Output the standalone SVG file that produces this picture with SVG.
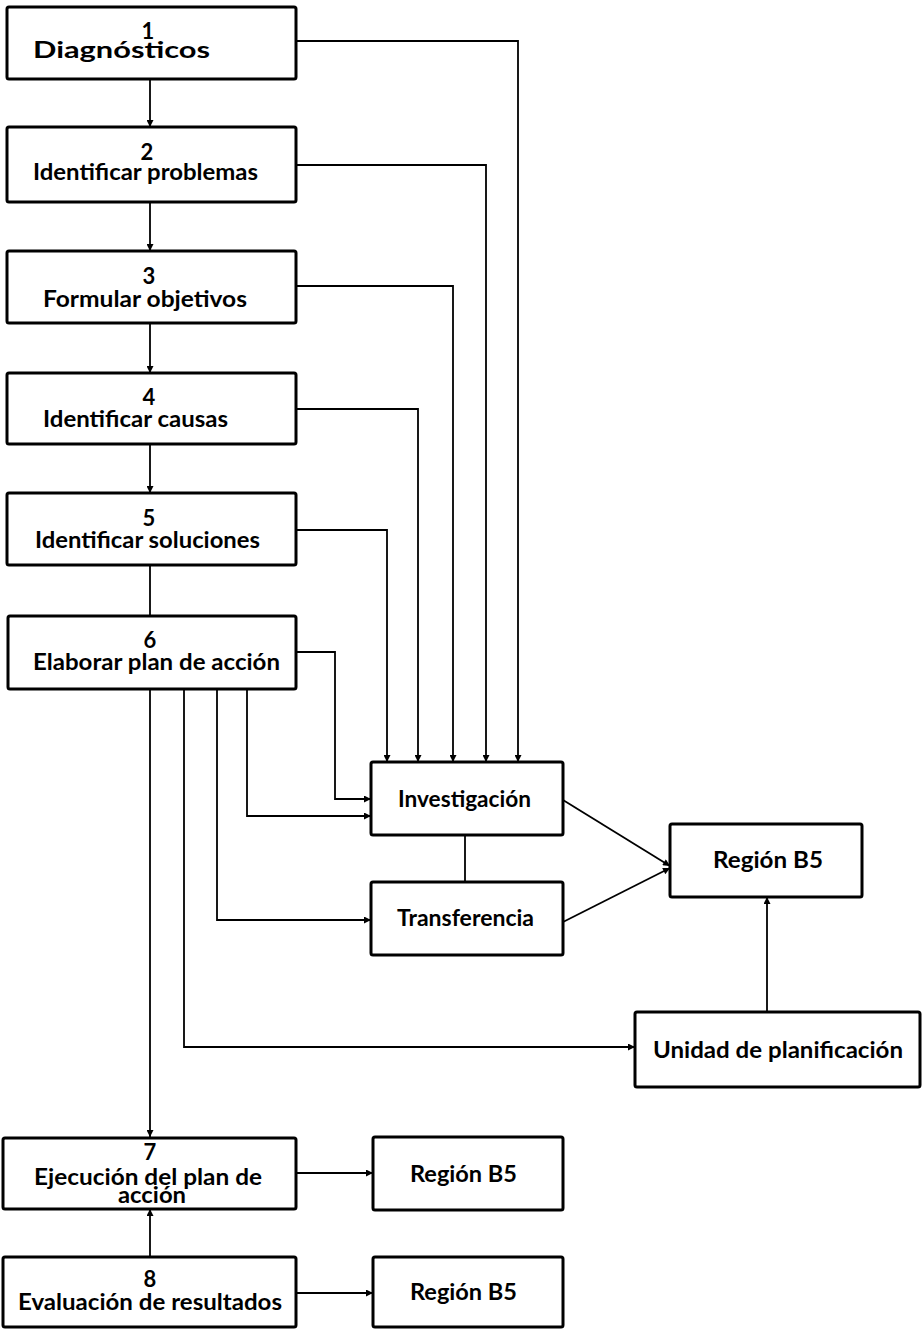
<svg xmlns="http://www.w3.org/2000/svg" width="924" height="1329" viewBox="0 0 924 1329">
<style>
.box{fill:#fff;stroke:#000;stroke-width:3;}
.ln{fill:none;stroke:#000;stroke-width:1.8;}
.t{font-family:Lato,"Open Sans","Liberation Sans",sans-serif;font-weight:bold;font-size:22px;fill:#000;}
.n{text-anchor:middle;}
</style>
<defs>
<marker id="ah" viewBox="0 0 10 10" refX="10" refY="5" markerWidth="9" markerHeight="7" markerUnits="userSpaceOnUse" orient="auto">
<path d="M0,0 L10,5 L0,10 Z" fill="#000"/>
</marker>
</defs>
<rect width="924" height="1329" fill="#fff"/>
<g id="connectors">
<path class="ln" d="M150,79 V127" marker-end="url(#ah)"/>
<path class="ln" d="M150,202 V251" marker-end="url(#ah)"/>
<path class="ln" d="M150,323 V373" marker-end="url(#ah)"/>
<path class="ln" d="M150,444 V493" marker-end="url(#ah)"/>
<path class="ln" d="M150,565 V616"/>
<path class="ln" d="M150,689 V1137" marker-end="url(#ah)"/>
<path class="ln" d="M150,1257 V1209" marker-end="url(#ah)"/>
<path class="ln" d="M296,41 H518 V762" marker-end="url(#ah)"/>
<path class="ln" d="M296,165 H486 V762" marker-end="url(#ah)"/>
<path class="ln" d="M296,286 H453 V762" marker-end="url(#ah)"/>
<path class="ln" d="M296,409 H418 V762" marker-end="url(#ah)"/>
<path class="ln" d="M296,530 H387 V762" marker-end="url(#ah)"/>
<path class="ln" d="M296,652 H335 V799 H371" marker-end="url(#ah)"/>
<path class="ln" d="M247,689 V816 H371" marker-end="url(#ah)"/>
<path class="ln" d="M217,689 V920 H371" marker-end="url(#ah)"/>
<path class="ln" d="M184,689 V1047 H635" marker-end="url(#ah)"/>
<path class="ln" d="M465,835 V882"/>
<path class="ln" d="M563,800 L670,866" marker-end="url(#ah)"/>
<path class="ln" d="M563,922 L670,868" marker-end="url(#ah)"/>
<path class="ln" d="M767,1012 V897" marker-end="url(#ah)"/>
<path class="ln" d="M296,1173 H373" marker-end="url(#ah)"/>
<path class="ln" d="M296,1293 H373" marker-end="url(#ah)"/>
</g>
<g id="n1"><rect class="box" x="7" y="7" width="289" height="72" rx="2"/>
<text class="t n" x="148" y="39">1</text>
<text class="t" x="33" y="58" textLength="177" lengthAdjust="spacingAndGlyphs">Diagnósticos</text></g>
<g id="n2"><rect class="box" x="7" y="127" width="289" height="75" rx="2"/>
<text class="t n" x="147" y="160">2</text>
<text class="t" x="33" y="180" textLength="225" lengthAdjust="spacingAndGlyphs">Identificar problemas</text></g>
<g id="n3"><rect class="box" x="7" y="251" width="289" height="72" rx="2"/>
<text class="t n" x="149" y="284">3</text>
<text class="t" x="43" y="307" textLength="204" lengthAdjust="spacingAndGlyphs">Formular objetivos</text></g>
<g id="n4"><rect class="box" x="7" y="373" width="289" height="71" rx="2"/>
<text class="t n" x="149" y="405">4</text>
<text class="t" x="43" y="427" textLength="185" lengthAdjust="spacingAndGlyphs">Identificar causas</text></g>
<g id="n5"><rect class="box" x="7" y="493" width="289" height="72" rx="2"/>
<text class="t n" x="149" y="526">5</text>
<text class="t" x="35" y="548" textLength="225" lengthAdjust="spacingAndGlyphs">Identificar soluciones</text></g>
<g id="n6"><rect class="box" x="8" y="616" width="288" height="73" rx="2"/>
<text class="t n" x="150" y="648">6</text>
<text class="t" x="33" y="670" textLength="247" lengthAdjust="spacingAndGlyphs">Elaborar plan de acción</text></g>
<g id="n7"><rect class="box" x="3" y="1138" width="293" height="71" rx="2"/>
<text class="t n" x="150" y="1160">7</text>
<text class="t" x="34" y="1185" textLength="228" lengthAdjust="spacingAndGlyphs">Ejecución del plan de</text>
<text class="t" x="118" y="1203" textLength="68" lengthAdjust="spacingAndGlyphs">acción</text></g>
<g id="n8"><rect class="box" x="3" y="1257" width="293" height="70" rx="2"/>
<text class="t n" x="150" y="1287">8</text>
<text class="t" x="18" y="1310" textLength="264" lengthAdjust="spacingAndGlyphs">Evaluación de resultados</text></g>
<g id="inv"><rect class="box" x="371" y="762" width="192" height="73" rx="2"/>
<text class="t" x="398" y="807" textLength="133" lengthAdjust="spacingAndGlyphs">Investigación</text></g>
<g id="trans"><rect class="box" x="371" y="882" width="192" height="73" rx="2"/>
<text class="t" x="397" y="926" textLength="137" lengthAdjust="spacingAndGlyphs">Transferencia</text></g>
<g id="regA"><rect class="box" x="670" y="824" width="192" height="73" rx="2"/>
<text class="t" x="713" y="868" textLength="110" lengthAdjust="spacingAndGlyphs">Región B5</text></g>
<g id="unidad"><rect class="box" x="635" y="1012" width="285" height="75" rx="2"/>
<text class="t" x="653" y="1058" textLength="250" lengthAdjust="spacingAndGlyphs">Unidad de planificación</text></g>
<g id="regB"><rect class="box" x="373" y="1137" width="190" height="73" rx="2"/>
<text class="t" x="410" y="1182" textLength="107" lengthAdjust="spacingAndGlyphs">Región B5</text></g>
<g id="regC"><rect class="box" x="373" y="1257" width="190" height="70" rx="2"/>
<text class="t" x="410" y="1300" textLength="107" lengthAdjust="spacingAndGlyphs">Región B5</text></g>
</svg>
